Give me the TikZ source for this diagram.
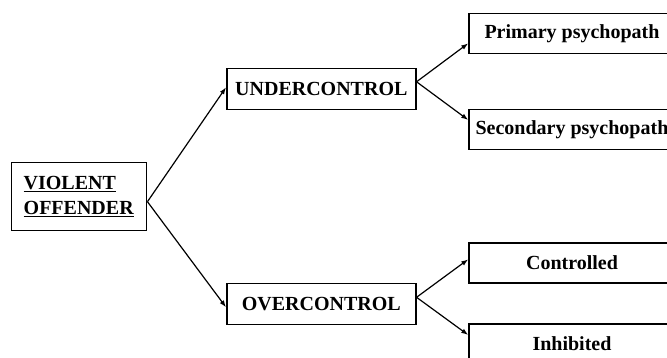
\documentclass[tikz,border=0pt]{standalone}
\usepackage{fontspec}
\setmainfont{Liberation Serif}
\usetikzlibrary{arrows.meta}
\begin{document}
\begin{tikzpicture}[x=1pt,y=-1pt,
  box/.style={draw, line width=1.5pt, font=\fontsize{20}{25}\selectfont\bfseries, inner sep=0pt},
  leaf/.style={box, minimum width=206pt, minimum height=40pt},
  mid/.style={box, minimum width=189pt, minimum height=41pt},
  conn/.style={line width=1.2pt, -{Latex[length=7pt,width=5pt]}}]
\clip (0,0) rectangle (667,358);
\fill[white] (0,0) rectangle (667,358);
\node[box, minimum width=135pt, minimum height=68pt, text width=111pt, align=left] (vo) at (79.2,196.7) {\underline{VIOLENT}\\\underline{OFFENDER}};
\node[mid] (uc) at (321.3,88.8) {UNDERCONTROL};
\node[mid] (oc) at (321.3,303.8) {OVERCONTROL};
\node[leaf] (pp) at (572,33.3) {Primary psychopath};
\node[leaf] (sp) at (572,129.3) {Secondary psychopath};
\node[leaf] (co) at (572,263) {Controlled};
\node[leaf] (in) at (572,344) {Inhibited};
\draw[conn] ([yshift=-5pt]vo.east) -- ([yshift=1.5pt]uc.west);
\draw[conn] ([yshift=-5pt]vo.east) -- ([yshift=-3.5pt]oc.west);
\draw[conn] ([yshift=7pt]uc.east) -- ([yshift=-10pt]pp.west);
\draw[conn] ([yshift=7pt]uc.east) -- ([yshift=9.3pt]sp.west);
\draw[conn] ([yshift=6.5pt]oc.east) -- ([yshift=3.7pt]co.west);
\draw[conn] ([yshift=6.5pt]oc.east) -- ([yshift=9pt]in.west);
\end{tikzpicture}
\end{document}
